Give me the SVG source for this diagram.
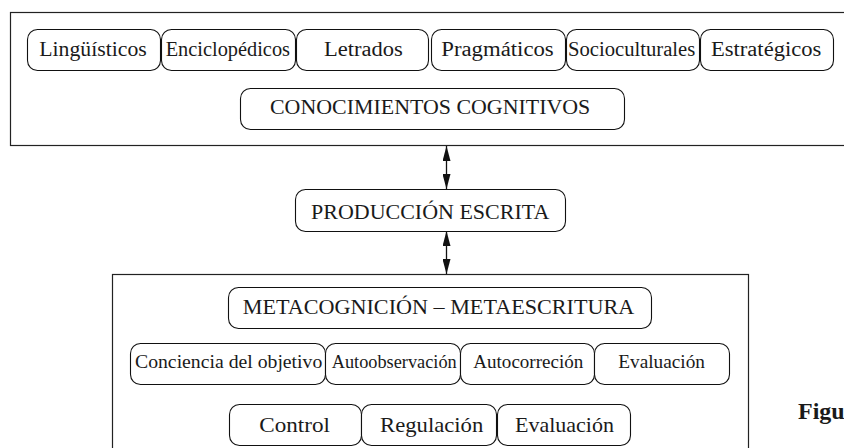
<svg xmlns="http://www.w3.org/2000/svg" width="844" height="448" viewBox="0 0 844 448">
<defs>
<style>
.frame{fill:none;stroke:#222;stroke-width:1.2}
.node rect{fill:#fff;stroke:#111;stroke-width:1.1}
.t{font-family:'Liberation Serif','Times New Roman','DejaVu Serif',Times,serif;fill:#1a1a1a}
.r1{font-size:20px}
.cap{font-size:21px}
.r2{font-size:19px}
.r3{font-size:21px}
.fig{font-size:24px;font-weight:bold}
.conn{stroke:#111;stroke-width:1.3;fill:none}
</style>
<marker id="ah2" viewBox="0 0 15 8" refX="15" refY="4" markerWidth="15" markerHeight="8" markerUnits="userSpaceOnUse" orient="auto-start-reverse">
<path d="M0,0 L15,4 L0,8 Z" fill="#111"/>
</marker>
</defs>
<rect width="844" height="448" fill="#fff"/>
<rect class="frame" x="10.5" y="12.5" width="840" height="133"/>
<rect class="frame" x="112.5" y="274.5" width="636" height="190"/>

<g id="connectors">
<line class="conn" x1="446.5" y1="146" x2="446.5" y2="189" marker-start="url(#ah2)" marker-end="url(#ah2)"/>
<line class="conn" x1="446.5" y1="231" x2="446.5" y2="274" marker-start="url(#ah2)" marker-end="url(#ah2)"/>
</g>

<g class="t" font-family="'Liberation Serif', 'Times New Roman', 'DejaVu Serif', serif">
<g id="n-linguisticos" class="node"><rect x="27.5" y="29.5" width="133" height="41" rx="10"/><text class="r1" x="39.3" y="56" textLength="107.4" lengthAdjust="spacingAndGlyphs">Lingüísticos</text></g>
<g id="n-enciclopedicos" class="node"><rect x="161.5" y="29.5" width="134" height="41" rx="10"/><text class="r1" x="165.7" y="56" textLength="124.3" lengthAdjust="spacingAndGlyphs">Enciclopédicos</text></g>
<g id="n-letrados" class="node"><rect x="296.5" y="29.5" width="132" height="41" rx="10"/><text class="r1" x="324" y="56" textLength="78.7" lengthAdjust="spacingAndGlyphs">Letrados</text></g>
<g id="n-pragmaticos" class="node"><rect x="431.5" y="29.5" width="134" height="41" rx="10"/><text class="r1" x="441.3" y="56" textLength="112.4" lengthAdjust="spacingAndGlyphs">Pragmáticos</text></g>
<g id="n-socioculturales" class="node"><rect x="566.5" y="29.5" width="133" height="41" rx="10"/><text class="r1" x="568" y="56" textLength="127.3" lengthAdjust="spacingAndGlyphs">Socioculturales</text></g>
<g id="n-estrategicos" class="node"><rect x="700.5" y="29.5" width="133" height="41" rx="10"/><text class="r1" x="711" y="56" textLength="110.3" lengthAdjust="spacingAndGlyphs">Estratégicos</text></g>

<g id="n-conocimientos" class="node"><rect x="240.5" y="88.5" width="384" height="41" rx="10"/><text class="cap" x="270" y="113.5" textLength="320.3" lengthAdjust="spacingAndGlyphs">CONOCIMIENTOS COGNITIVOS</text></g>

<g id="n-produccion" class="node"><rect x="295.5" y="189.5" width="270" height="42" rx="10"/><text class="cap" x="311" y="218.5" textLength="238.3" lengthAdjust="spacingAndGlyphs">PRODUCCIÓN ESCRITA</text></g>

<g id="n-metacognicion" class="node"><rect x="228.5" y="287.5" width="423" height="41" rx="10"/><text class="cap" x="242.7" y="313.5" textLength="391.6" lengthAdjust="spacingAndGlyphs">METACOGNICIÓN – METAESCRITURA</text></g>

<g id="n-conciencia" class="node"><rect x="130.5" y="343.5" width="195" height="41" rx="10"/><text class="r2" x="135" y="367.5" textLength="187.3" lengthAdjust="spacingAndGlyphs">Conciencia del objetivo</text></g>
<g id="n-autoobservacion" class="node"><rect x="325.5" y="343.5" width="135" height="41" rx="10"/><text class="r2" x="331.7" y="367.5" textLength="125" lengthAdjust="spacingAndGlyphs">Autoobservación</text></g>
<g id="n-autocorrecion" class="node"><rect x="460.5" y="343.5" width="134" height="41" rx="10"/><text class="r2" x="473.3" y="367.5" textLength="110" lengthAdjust="spacingAndGlyphs">Autocorreción</text></g>
<g id="n-evaluacion1" class="node"><rect x="594.5" y="343.5" width="135" height="41" rx="10"/><text class="r2" x="618.3" y="367.5" textLength="86.7" lengthAdjust="spacingAndGlyphs">Evaluación</text></g>

<g id="n-control" class="node"><rect x="229.5" y="404.5" width="132" height="41" rx="10"/><text class="r3" x="259.3" y="432" textLength="70.7" lengthAdjust="spacingAndGlyphs">Control</text></g>
<g id="n-regulacion" class="node"><rect x="361.5" y="404.5" width="135" height="41" rx="10"/><text class="r3" x="380" y="432" textLength="103.3" lengthAdjust="spacingAndGlyphs">Regulación</text></g>
<g id="n-evaluacion2" class="node"><rect x="497.5" y="404.5" width="133" height="41" rx="10"/><text class="r3" x="515" y="432" textLength="99" lengthAdjust="spacingAndGlyphs">Evaluación</text></g>

<text class="fig" x="798" y="419">Figu</text>
</g>
</svg>
